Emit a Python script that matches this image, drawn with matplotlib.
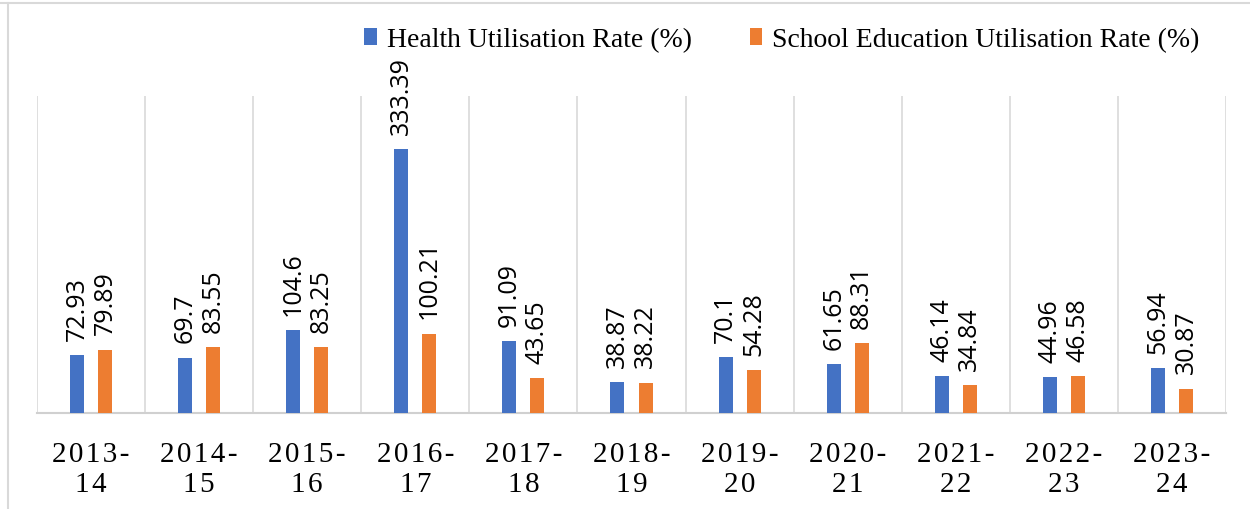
import matplotlib
matplotlib.use("Agg")
import matplotlib.pyplot as plt
from matplotlib.lines import Line2D
import numpy as np

years = ["2013-14", "2014-15", "2015-16", "2016-17", "2017-18", "2018-19",
         "2019-20", "2020-21", "2021-22", "2022-23", "2023-24"]
health = [72.93, 69.7, 104.6, 333.39, 91.09, 38.87, 70.1, 61.65, 46.14, 44.96, 56.94]
school = [79.89, 83.55, 83.25, 100.21, 43.65, 38.22, 54.28, 88.31, 34.84, 46.58, 30.87]
health_labels = ["72.93", "69.7", "104.6", "333.39", "91.09", "38.87", "70.1", "61.65", "46.14", "44.96", "56.94"]
school_labels = ["79.89", "83.55", "83.25", "100.21", "43.65", "38.22", "54.28", "88.31", "34.84", "46.58", "30.87"]

BLUE = "#4472C4"
ORANGE = "#ED7D31"

fig = plt.figure(figsize=(12.5, 5.1), dpi=100)
ax = fig.add_axes([37/1250, 1 - 414/510, (1226-37)/1250, (414-97)/510])

x = np.arange(len(years))
w = 0.13
off = 0.13
ax.bar(x - off, health, width=w, color=BLUE, label="Health Utilisation Rate (%)", zorder=3)
ax.bar(x + off, school, width=w, color=ORANGE, label="School Education Utilisation Rate (%)", zorder=3)

for xi, v, t in zip(x, health, health_labels):
    ax.annotate(t, (xi - off, v), xytext=(0, 11), textcoords="offset points",
                rotation=90, ha="center", va="bottom", fontsize=18,
                family="Open Sans", color="#000000", annotation_clip=False)
for xi, v, t in zip(x, school, school_labels):
    ax.annotate(t, (xi + off, v), xytext=(0, 11), textcoords="offset points",
                rotation=90, ha="center", va="bottom", fontsize=18,
                family="Open Sans", color="#000000", annotation_clip=False)

ax.set_xlim(-0.5, len(years) - 0.5)
ax.set_ylim(0, 400)
for b in np.arange(-0.5, len(years), 1.0):
    ax.axvline(b, color="#d9d9d9", lw=1.2, zorder=1)

for s in ["top", "right", "left"]:
    ax.spines[s].set_visible(False)
ax.spines["bottom"].set_color("#d0d0d0")
ax.spines["bottom"].set_linewidth(1.5)
ax.set_yticks([])

sp = "\u200a"
def spaced(s):
    return sp.join(list(s))
tick_texts = []
for y in years:
    a, b = y.split("-")
    tick_texts.append(spaced(a + "-") + "\n" + spaced(b))
ax.set_xticks(x)
ax.set_xticklabels(tick_texts, fontsize=21, family="Liberation Serif", linespacing=1.2)
ax.tick_params(axis="x", length=0, pad=20)

leg = fig.legend(loc="center", bbox_to_anchor=(782/1250, 1 - 41/510), ncol=2, frameon=False,
                 prop={"family": "Liberation Serif", "size": 20},
                 handlelength=0.45, handleheight=0.55, handletextpad=0.35, columnspacing=2.1)

fig.add_artist(Line2D([0, 1], [1 - 4/510, 1 - 4/510], color="#d9d9d9", lw=1.5))
fig.add_artist(Line2D([8/1250, 8/1250], [0, 1 - 4/510], color="#d9d9d9", lw=1.5))

fig.savefig("out.png", dpi=100)
